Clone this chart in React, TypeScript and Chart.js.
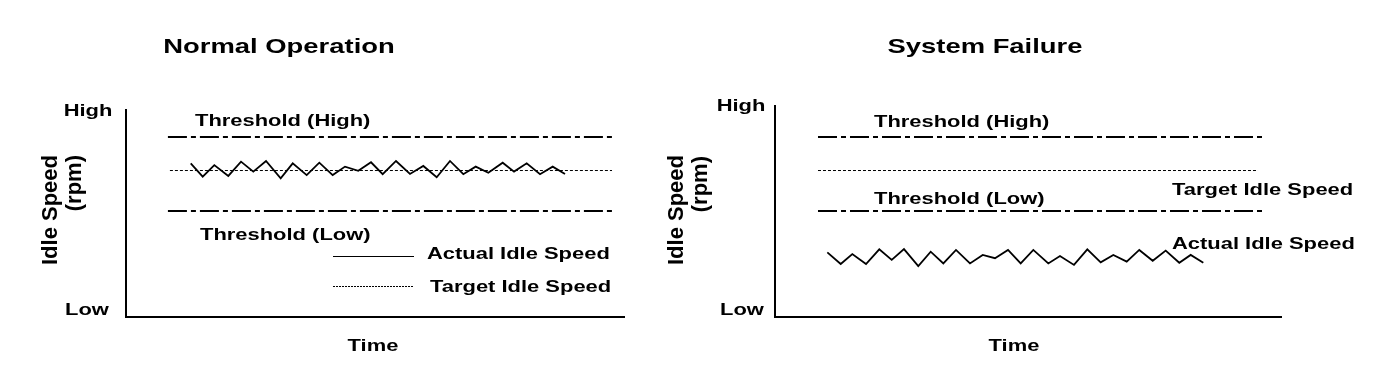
import React, { useEffect, useRef } from "react";
import { Chart, registerables } from "chart.js";

Chart.register(...registerables);

// ---- Data (y: 0 = Low, 100 = High; x: time 0..100) ----
const thresholdHighValue = 83;
const thresholdLowValue = 48.8;
const targetIdleValue = 67.5;

// Normal operation panel
const normalThresholdX = [8.4, 97.4];
const normalTargetX = [8.8, 97.4];
const normalActualX = [
  12.97, 15.37, 17.7, 20.5, 23.05, 25.51, 28.06, 31.0, 33.41, 36.21,
  38.74, 41.42, 43.89, 46.55, 49.1, 51.44, 54.11, 56.91, 59.58, 62.26,
  64.93, 67.6, 70.08, 72.61, 75.49, 77.76, 80.3, 82.97, 85.51, 87.98,
];
const normalActualY = [
  70.8, 64.7, 70.0, 65.0, 71.6, 67.0, 71.9, 63.9, 70.8, 65.4,
  71.1, 65.4, 69.3, 67.4, 71.3, 65.8, 71.9, 65.9, 69.6, 64.4,
  71.9, 65.8, 69.3, 66.5, 71.1, 67.0, 70.8, 65.8, 69.3, 65.9,
];

// System failure panel
const failureThresholdX = [8.48, 96.25];
const failureTargetX = [8.48, 95.27];
const failureActualX = [
  10.32, 12.96, 15.25, 17.95, 20.57, 23.02, 25.44, 28.26, 30.71, 33.2,
  35.7, 38.46, 40.97, 43.39, 45.96, 48.46, 50.95, 53.91, 56.21, 58.97,
  61.6, 64.24, 66.73, 69.37, 71.85, 74.5, 77.06, 79.74, 81.99, 84.48,
];
const failureActualY = [
  29.8, 24.4, 29.0, 24.4, 31.2, 26.3, 31.3, 23.5, 30.1, 24.7,
  30.9, 24.7, 28.6, 27.1, 30.9, 24.7, 30.9, 24.7, 28.1, 24.0,
  31.2, 25.2, 28.6, 25.5, 30.9, 25.9, 30.6, 25.0, 28.6, 25.0,
];

// ---- Text labels ----
const panelTitles = ["Normal Operation", "System Failure"];
const yTickLabels = ["High", "Low"];
const yTitleLines = ["Idle Speed", "(rpm)"];
const xTitle = "Time";
const lineLabels = ["Threshold (High)", "Threshold (Low)", "Actual Idle Speed", "Target Idle Speed"];

// ---- Styles ----
const FONT = '"Liberation Sans", Arial, Helvetica, sans-serif';
const LABEL_SIZE = 17;
const LABEL_STRETCH = 1.29;
const TITLE_SIZE = 21;
const TITLE_STRETCH = 1.305;
const YTITLE_SIZE = 22;
const DASH_DOT = [19, 4, 5, 4];
const DOTTED = [3, 2];

type TextItem = {
  text: string;
  x: number;
  y: number;
  size: number;
  stretch?: number;
  align?: CanvasTextAlign;
  rotate?: boolean;
};

type PanelStyle = {
  width: number;
  padding: { left: number; right: number; top: number; bottom: number };
  axisTopInset: number;
  texts: TextItem[];
  legend?: { x0: number; x1: number; ySolid: number; yDotted: number };
};

const seg = (xs: number[], y: number) => xs.map((x) => ({ x, y }));
const zip = (xs: number[], ys: number[]) => xs.map((x, i) => ({ x, y: ys[i] }));

const lab = (text: string, x: number, y: number, align: CanvasTextAlign = "left"): TextItem => ({
  text,
  x,
  y,
  size: LABEL_SIZE,
  stretch: LABEL_STRETCH,
  align,
});

const panels: { style: PanelStyle; thX: number[]; tgX: number[]; ax: number[]; ay: number[] }[] = [
  {
    thX: normalThresholdX,
    tgX: normalTargetX,
    ax: normalActualX,
    ay: normalActualY,
    style: {
      width: 645,
      padding: { left: 126, right: 20, top: 100, bottom: 55 },
      axisTopInset: 9,
      legend: { x0: 333, x1: 414, ySolid: 256, yDotted: 286 },
      texts: [
        { text: panelTitles[0], x: 279, y: 53, size: TITLE_SIZE, stretch: TITLE_STRETCH, align: "center" },
        lab(yTickLabels[0], 88, 116, "center"),
        lab(yTickLabels[1], 87, 315, "center"),
        lab(xTitle, 373, 351, "center"),
        { text: yTitleLines[0], x: 57, y: 155, size: YTITLE_SIZE, rotate: true },
        { text: yTitleLines[1], x: 81, y: 155, size: YTITLE_SIZE, rotate: true },
        lab(lineLabels[0], 195, 126),
        lab(lineLabels[1], 200, 240),
        lab(lineLabels[2], 427, 259),
        lab(lineLabels[3], 430, 292),
      ],
    },
  },
  {
    thX: failureThresholdX,
    tgX: failureTargetX,
    ax: failureActualX,
    ay: failureActualY,
    style: {
      width: 747,
      padding: { left: 130, right: 110, top: 100, bottom: 55 },
      axisTopInset: 5,
      texts: [
        { text: panelTitles[1], x: 340, y: 53, size: TITLE_SIZE, stretch: TITLE_STRETCH, align: "center" },
        lab(yTickLabels[0], 96, 111, "center"),
        lab(yTickLabels[1], 97, 315, "center"),
        lab(xTitle, 369, 351, "center"),
        { text: yTitleLines[0], x: 38, y: 155, size: YTITLE_SIZE, rotate: true },
        { text: yTitleLines[1], x: 62, y: 156, size: YTITLE_SIZE, rotate: true },
        lab(lineLabels[0], 229, 127),
        lab(lineLabels[1], 229, 204),
        lab(lineLabels[3], 527, 195),
        lab(lineLabels[2], 527, 249),
      ],
    },
  },
];

function drawText(ctx: CanvasRenderingContext2D, t: TextItem) {
  ctx.save();
  ctx.font = `bold ${t.size}px ${FONT}`;
  ctx.fillStyle = "#000";
  ctx.textBaseline = "alphabetic";
  ctx.translate(t.x, t.y);
  if (t.rotate) {
    ctx.rotate(-Math.PI / 2);
    ctx.textAlign = "right";
  } else {
    ctx.scale(t.stretch || 1, 1);
    ctx.textAlign = t.align || "left";
  }
  ctx.fillText(t.text, 0, 0);
  ctx.restore();
}

function makeDecorPlugin(style: PanelStyle) {
  return {
    id: "decor",
    afterDraw(chart: any) {
      const ctx: CanvasRenderingContext2D = chart.ctx;
      const a = chart.chartArea;
      ctx.save();
      ctx.strokeStyle = "#000";
      ctx.lineWidth = 2;
      ctx.setLineDash([]);
      ctx.beginPath();
      ctx.moveTo(a.left, a.top + style.axisTopInset);
      ctx.lineTo(a.left, a.bottom);
      ctx.lineTo(a.right, a.bottom);
      ctx.stroke();
      if (style.legend) {
        const l = style.legend;
        ctx.lineWidth = 1;
        ctx.beginPath();
        ctx.moveTo(l.x0, l.ySolid + 0.5);
        ctx.lineTo(l.x1, l.ySolid + 0.5);
        ctx.stroke();
        ctx.setLineDash([2, 1]);
        ctx.beginPath();
        ctx.moveTo(l.x0, l.yDotted + 0.5);
        ctx.lineTo(l.x1, l.yDotted + 0.5);
        ctx.stroke();
      }
      ctx.restore();
      style.texts.forEach((t) => drawText(ctx, t));
    },
  };
}

function Panel({ idx }: { idx: number }) {
  const ref = useRef<HTMLCanvasElement | null>(null);
  useEffect(() => {
    const p = panels[idx];
    const chart = new Chart(ref.current as HTMLCanvasElement, {
      type: "line",
      data: {
        datasets: [
          {
            label: lineLabels[0],
            data: seg(p.thX, thresholdHighValue),
            borderColor: "#000",
            borderWidth: 2,
            borderDash: DASH_DOT,
            pointRadius: 0,
          },
          {
            label: lineLabels[1],
            data: seg(p.thX, thresholdLowValue),
            borderColor: "#000",
            borderWidth: 2,
            borderDash: DASH_DOT,
            pointRadius: 0,
          },
          {
            label: lineLabels[3],
            data: seg(p.tgX, targetIdleValue),
            borderColor: "#000",
            borderWidth: 1,
            borderDash: DOTTED,
            pointRadius: 0,
          },
          {
            label: lineLabels[2],
            data: zip(p.ax, p.ay),
            borderColor: "#000",
            borderWidth: 1.8,
            pointRadius: 0,
            tension: 0,
          },
        ],
      },
      options: {
        responsive: false,
        animation: false,
        events: [],
        layout: { padding: p.style.padding },
        plugins: {
          legend: { display: false },
          title: { display: false },
          tooltip: { enabled: false },
        },
        scales: {
          x: { type: "linear", min: 0, max: 100, display: false },
          y: { type: "linear", min: 0, max: 100, display: false },
        },
      },
      plugins: [makeDecorPlugin(p.style)],
    } as any);
    return () => chart.destroy();
  }, [idx]);
  return <canvas ref={ref} width={panels[idx].style.width} height={372} style={{ display: "block" }} />;
}

export default function App() {
  return (
    <div
      style={{
        position: "absolute",
        left: 0,
        top: 0,
        width: 1392,
        height: 372,
        background: "#fff",
        display: "flex",
      }}
    >
      <Panel idx={0} />
      <Panel idx={1} />
    </div>
  );
}
